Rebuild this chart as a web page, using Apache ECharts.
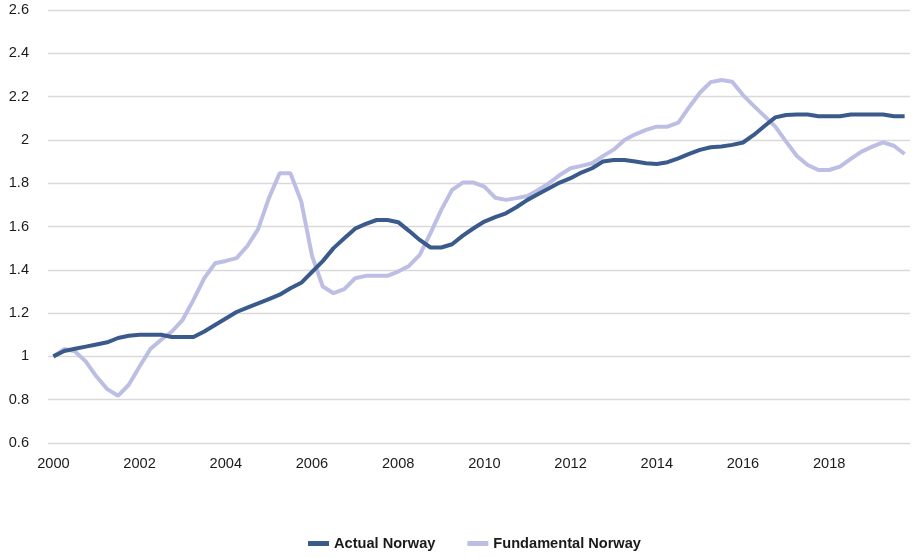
<!DOCTYPE html>
<html>
<head>
<meta charset="utf-8">
<script src="https://cdn.jsdelivr.net/npm/echarts@6/dist/echarts.min.js"></script>
<style>html,body{margin:0;padding:0;background:#fff;}#c{width:912px;height:558px;}</style>
</head>
<body>
<div id="c"></div>
<script>
// Quarterly categories 2000Q1 .. 2019Q4
var years = [2000,2001,2002,2003,2004,2005,2006,2007,2008,2009,2010,2011,2012,2013,2014,2015,2016,2017,2018,2019];
var quarters = ["Q1","Q2","Q3","Q4"];
var categories = [];
years.forEach(function(y){ quarters.forEach(function(q){ categories.push(y + " " + q); }); });

var actualNorway = [
  1.00,1.025,1.035,1.045, 1.055,1.065,1.085,1.095,
  1.10,1.10,1.10,1.09, 1.09,1.09,1.115,1.145,
  1.175,1.205,1.225,1.245, 1.265,1.285,1.315,1.34,
  1.39,1.44,1.50,1.546, 1.59,1.612,1.63,1.63,
  1.62,1.58,1.538,1.503, 1.503,1.518,1.558,1.592,
  1.623,1.643,1.661,1.69, 1.723,1.75,1.777,1.803,
  1.823,1.849,1.869,1.90, 1.907,1.907,1.90,1.892,
  1.889,1.897,1.915,1.935, 1.954,1.966,1.97,1.977,
  1.988,2.023,2.064,2.104, 2.115,2.117,2.117,2.109,
  2.109,2.109,2.117,2.117, 2.117,2.117,2.109,2.109
];
var fundamentalNorway = [
  1.00,1.034,1.023,0.977, 0.907,0.849,0.818,0.869,
  0.953,1.034,1.077,1.115, 1.169,1.261,1.361,1.43,
  1.441,1.454,1.51,1.588, 1.731,1.846,1.846,1.716,
  1.465,1.323,1.292,1.311, 1.361,1.372,1.372,1.372,
  1.392,1.418,1.469,1.569, 1.677,1.769,1.803,1.803,
  1.784,1.733,1.723,1.731, 1.741,1.769,1.80,1.838,
  1.869,1.88,1.892,1.925, 1.955,2.00,2.026,2.046,
  2.061,2.061,2.08,2.151, 2.218,2.267,2.277,2.269,
  2.207,2.157,2.11,2.061, 1.992,1.926,1.884,1.861,
  1.861,1.877,1.912,1.946, 1.969,1.989,1.973,1.935
];
var seriesNames = ["Actual Norway","Fundamental Norway"];
var yMin = 0.6, yMax = 2.6, yStep = 0.2;

var chart = echarts.init(document.getElementById('c'), null, {renderer:'canvas'});
chart.setOption({
  animation: false,
  backgroundColor: '#ffffff',
  textStyle: {fontFamily: 'Liberation Sans, Arial, sans-serif'},
  grid: {left: 48, right: 2, top: 10, bottom: 115, containLabel: false},
  legend: {
    bottom: 2,
    left: 303,
    itemWidth: 21,
    itemHeight: 5,
    itemGap: 32,
    icon: 'rect',
    textStyle: {fontSize: 14.6, fontWeight: 'bold', color: '#1a1a1a', fontFamily: 'Liberation Sans, Arial, sans-serif'},
    data: seriesNames
  },
  xAxis: {
    type: 'category',
    data: categories,
    boundaryGap: true,
    axisLine: {show: false},
    axisTick: {show: false},
    axisLabel: {
      interval: 7,
      margin: 13,
      fontSize: 14.6,
      color: '#1a1a1a',
      formatter: function(v){ return v.split(' ')[0]; }
    },
    splitLine: {show: false}
  },
  yAxis: {
    type: 'value',
    min: yMin, max: yMax, interval: yStep,
    axisLine: {show: false},
    axisTick: {show: false},
    axisLabel: {fontSize: 14.6, color: '#1a1a1a', margin: 19, padding: [4,0,0,0],
      formatter: function(v){ return String(Math.round(v*10)/10); }},
    splitLine: {lineStyle: {color: '#d9d9d9', width: 1.3}}
  },
  series: [
    {
      name: seriesNames[0], type: 'line', data: actualNorway,
      symbol: 'none', smooth: false, z: 3,
      lineStyle: {color: '#3a5a8c', width: 4},
      itemStyle: {color: '#3a5a8c'}
    },
    {
      name: seriesNames[1], type: 'line', data: fundamentalNorway,
      symbol: 'none', smooth: false, z: 2,
      lineStyle: {color: '#bdbee4', width: 4},
      itemStyle: {color: '#bdbee4'}
    }
  ]
});
</script>
</body>
</html>
